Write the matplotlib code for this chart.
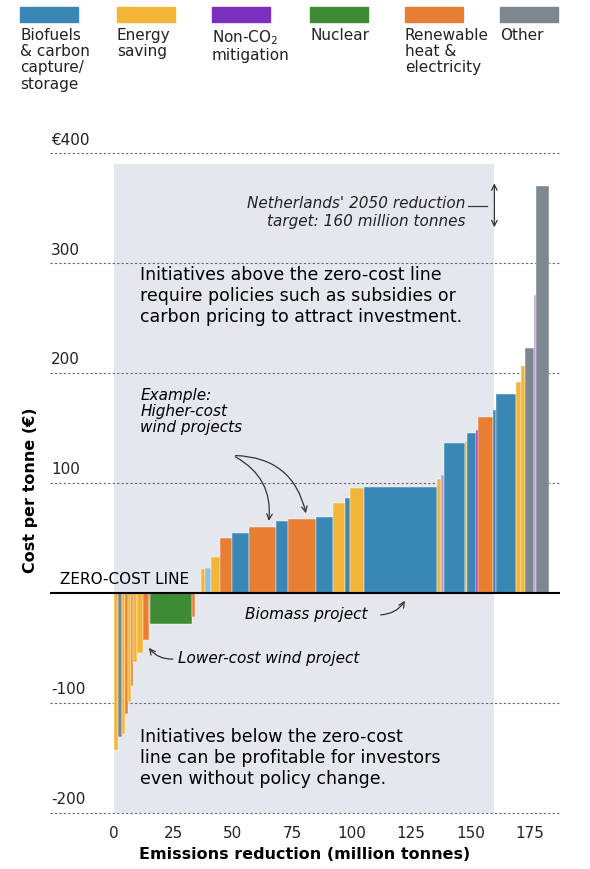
import matplotlib
matplotlib.use("Agg")
import matplotlib.pyplot as plt
from matplotlib.patches import Rectangle

C = {"B": "#3a86b4", "Y": "#f2b538", "P": "#7b2fbf", "G": "#3e8a35", "O": "#e87d34",
     "X": "#7d8790", "LP": "#b79ad6", "LB": "#8fc0e0"}

widths = [1.5, 2.0, 1.2, 1.3, 1.2, 0.9, 1.4, 2.8, 2.6, 0.3, 17.5, 1.5, 2.5,
          1.8, 2.4, 3.8, 5.0, 7.0, 11.3, 5.1, 12.0, 7.0, 4.9, 2.1, 5.9,
          30.8, 1.8, 1.4, 8.5, 1.1, 3.5, 1.0, 6.3, 1.4, 8.4, 2.1, 1.7, 3.6, 0.7, 5.6]
costs = [-143, -131, -128, -110, -99, -85, -63, -55, -43, -28, -28, -22, 0,
         22, 23, 33, 50, 54.5, 60, 65.5, 67, 69, 82, 86, 95,
         96.6, 104, 107, 136, 138, 145, 148, 160, 166, 181, 192, 206, 223, 271, 370]
colors = ["Y", "X", "Y", "O", "Y", "O", "Y", "Y", "O", "O", "G", "O", "Y",
          "Y", "LB", "Y", "O", "B", "O", "B", "O", "B", "Y", "B", "Y",
          "B", "Y", "LP", "B", "Y", "B", "P", "O", "B", "B", "Y", "Y", "X", "LP", "X"]

legend_labels = ["Biofuels\n& carbon\ncapture/\nstorage", "Energy\nsaving", "Non-CO$_2$\nmitigation",
                 "Nuclear", "Renewable\nheat &\nelectricity", "Other"]
legend_colors = ["B", "Y", "P", "G", "O", "X"]
legend_x = [20, 117, 212, 310, 405, 500]

fig = plt.figure(figsize=(5.9, 8.69), dpi=100)
W, H = 590, 869
ax = fig.add_axes([50 / W, 1 - 815 / H, 510 / W, 685 / H])
ax.set_xlim(-26.9, 187.6)
ax.set_ylim(-202, 421)

ax.add_patch(Rectangle((0, -200), 160, 590, color="#e4e8ee", zorder=0, lw=0))
for y in [-200, -100, 100, 200, 300, 400]:
    ax.axhline(y, color="#666666", ls=(0, (2, 2)), lw=0.8, zorder=1)

x = 0
for w, c, col in zip(widths, costs, colors):
    if c != 0:
        ax.bar(x, c, width=w, align="edge", color=C[col], edgecolor="white", lw=0.3, zorder=2)
    x += w
ax.axhline(0, color="black", lw=1.5, zorder=3)

for s in ax.spines.values():
    s.set_visible(False)
ax.set_yticks([])
ax.set_xticks([0, 25, 50, 75, 100, 125, 150, 175])
ax.tick_params(axis="x", length=0, labelsize=11, colors="#222222", pad=8)
for y, lab in [(400, "€400"), (300, "300"), (200, "200"), (100, "100"), (-100, "-100"), (-200, "-200")]:
    ax.text(-26.5, y + 5, lab, fontsize=11, va="bottom", ha="left", color="#222222")
ax.set_xlabel("Emissions reduction (million tonnes)", fontsize=11.5, fontweight="bold")
fig.text(30 / W, 1 - 490 / H, "Cost per tonne (€)", rotation=90, fontsize=11.5,
         fontweight="bold", ha="center", va="center")
fig.text(60 / W, 1 - 580 / H, "ZERO-COST LINE", fontsize=11, ha="left", va="center")

ax.text(11, 270, "Initiatives above the zero-cost line\nrequire policies such as subsidies or\ncarbon pricing to attract investment.",
        fontsize=12.5, va="center", ha="left", linespacing=1.2)
ax.text(11, -150, "Initiatives below the zero-cost\nline can be profitable for investors\neven without policy change.",
        fontsize=12.5, va="center", ha="left", linespacing=1.2)
ax.text(148, 346, "Netherlands' 2050 reduction\ntarget: 160 million tonnes", fontsize=11,
        style="italic", ha="right", va="center", color="#222222")
ax.plot([149, 157], [352, 352], color="#333333", lw=0.9)
ax.annotate("", xy=(160, 375), xytext=(160, 330),
            arrowprops=dict(arrowstyle="<->", color="#333333", lw=0.9))
ax.text(11, 165, "Example:\nHigher-cost\nwind projects", fontsize=11, style="italic",
        ha="left", va="center", linespacing=1.1)
ax.annotate("", xy=(65, 63), xytext=(50, 125),
            arrowprops=dict(arrowstyle="->", color="#333333", lw=0.9, connectionstyle="arc3,rad=-0.35"))
ax.annotate("", xy=(81, 70), xytext=(50, 125),
            arrowprops=dict(arrowstyle="->", color="#333333", lw=0.9, connectionstyle="arc3,rad=-0.4"))
ax.text(55, -20, "Biomass project", fontsize=11, style="italic", ha="left", va="center")
ax.annotate("", xy=(123, -5), xytext=(111, -20),
            arrowprops=dict(arrowstyle="->", color="#333333", lw=0.9, connectionstyle="arc3,rad=0.3"))
ax.text(27, -60, "Lower-cost wind project", fontsize=11, style="italic", ha="left", va="center")
ax.annotate("", xy=(14, -48), xytext=(26, -60),
            arrowprops=dict(arrowstyle="->", color="#333333", lw=0.9, connectionstyle="arc3,rad=-0.3"))

for lx, lab, col in zip(legend_x, legend_labels, legend_colors):
    fig.patches.append(Rectangle((lx / W, 1 - 22 / H), 58 / W, 15 / H, transform=fig.transFigure,
                                 color=C[col], figure=fig))
    fig.text(lx / W, 1 - 28 / H, lab, fontsize=11, va="top", ha="left", linespacing=1.1, color="#222222")

fig.savefig("out.png", dpi=100, facecolor="white")
